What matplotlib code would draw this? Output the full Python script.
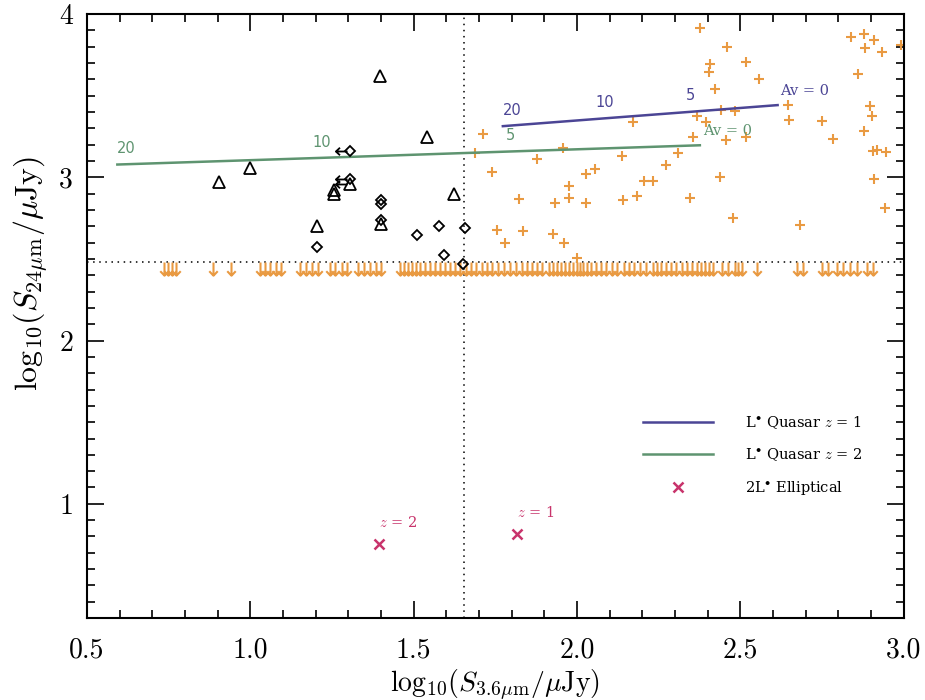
import numpy as np
import matplotlib
matplotlib.use("Agg")
import matplotlib.pyplot as plt
from matplotlib.path import Path
from matplotlib.lines import Line2D
from matplotlib.ticker import MultipleLocator, FormatStrFormatter

plt.rcParams["font.family"] = ["cmr10", "DejaVu Serif"]
plt.rcParams["mathtext.fontset"] = "cm"
plt.rcParams["axes.formatter.use_mathtext"] = True

# --- detected sources: triangles and diamonds (log S3.6, log S24) ---
tri_x = [1.396, 1.541, 1.000, 0.903, 1.256, 1.256, 1.304, 1.622, 1.204, 1.400]
tri_y = [3.621, 3.247, 3.057, 2.971, 2.920, 2.896, 2.961, 2.896, 2.699, 2.716]

dia_x = [1.304, 1.304, 1.400, 1.400, 1.400, 1.204, 1.511, 1.579, 1.656, 1.594, 1.650]
dia_y = [3.160, 2.992, 2.859, 2.839, 2.736, 2.572, 2.644, 2.699, 2.691, 2.526, 2.470]

# sources with 3.6um upper limits (left arrows)
xlim_x = [1.304, 1.304, 1.304]
xlim_y = [3.160, 2.992, 2.961]

# --- 24um detected comparison sample (crosses) ---
crs_x = [1.713, 1.687, 1.740, 1.754, 1.779, 1.822, 1.835, 1.878, 1.927, 1.960,
         1.932, 1.976, 1.976, 1.957, 2.027, 2.027, 2.054, 2.138, 2.141, 2.172,
         2.185, 2.205, 2.233, 2.271, 2.309, 2.347, 2.355, 2.368, 2.394, 2.376,
         2.406, 2.404, 2.422, 2.442, 2.439, 2.457, 2.460, 2.478, 2.485, 2.517,
         2.517, 2.557, 2.646, 2.649, 2.682, 2.751, 2.784, 2.838, 2.879, 2.909,
         2.883, 2.932, 2.860, 2.896, 2.903, 2.879, 2.906, 2.945, 2.908, 2.942,
         2.993, 2.917, 2.000]
crs_y = [3.262, 3.149, 3.033, 2.679, 2.599, 2.869, 2.669, 3.110, 2.655, 2.599,
         2.845, 2.947, 2.873, 3.180, 2.845, 3.018, 3.049, 3.131, 2.859, 3.339,
         2.885, 2.975, 2.975, 3.078, 3.149, 2.876, 3.247, 3.374, 3.339, 3.912,
         3.693, 3.642, 3.540, 3.411, 3.002, 3.227, 3.799, 2.753, 3.405, 3.244,
         3.707, 3.601, 3.442, 3.350, 2.706, 3.344, 3.237, 3.861, 3.877, 3.840,
         3.790, 3.765, 3.632, 3.436, 3.374, 3.284, 3.161, 3.152, 2.992, 2.814,
         3.810, 3.166, 2.503]

# --- 24um upper limits (down arrows) ---
ulim_y = 2.48
ulim_x = [0.736, 0.748, 0.760, 0.772, 0.886, 0.941,
          1.029, 1.045, 1.060, 1.078, 1.094, 1.152, 1.170, 1.189, 1.207,
          1.244, 1.259, 1.280, 1.296, 1.329, 1.348, 1.366, 1.384, 1.400,
          1.458, 1.470, 1.482, 1.495, 1.507, 1.519, 1.534, 1.550, 1.565, 1.580,
          1.595, 1.611, 1.626, 1.641, 1.660, 1.675, 1.690, 1.709, 1.724, 1.739,
          1.758, 1.776, 1.794, 1.813, 1.831, 1.846, 1.862, 1.877, 1.892, 1.914,
          1.926, 1.938, 1.950, 1.963, 1.975, 1.987, 1.999, 2.009, 2.018, 2.030,
          2.042, 2.058, 2.073, 2.088, 2.107, 2.122, 2.143, 2.159, 2.174, 2.192,
          2.211, 2.232, 2.244, 2.256, 2.272, 2.287, 2.302, 2.321, 2.336, 2.351,
          2.367, 2.379, 2.391, 2.403, 2.416, 2.443, 2.461, 2.483, 2.492, 2.504,
          2.550, 2.673, 2.691, 2.749, 2.767, 2.795, 2.813, 2.835, 2.856, 2.887,
          2.905]

# --- L* quasar tracks, reddened by Av = 20, 10, 5, 0 ---
av_labels = ["20", "10", "5", "Av = 0"]
qso_z1_x = [1.773, 2.085, 2.348, 2.614]
qso_z1_y = [3.313, 3.361, 3.401, 3.442]
qso_z2_x = [0.593, 1.219, 1.797, 2.376]
qso_z2_y = [3.078, 3.119, 3.158, 3.196]

# --- 2L* elliptical ---
ell_x = [1.394, 1.815]
ell_y = [0.753, 0.814]
ell_labels = ["$z$ = 2", "$z$ = 1"]

# dotted selection cuts
cut_x = 1.655
cut_y = 2.48

c_orange = "#E99A42"
c_blue = "#4B4595"
c_green = "#5E9470"
c_red = "#C8336B"

serif = ["DejaVu Serif"]

down_arrow = Path([(0, 0), (0, -1), (-0.32, -0.66), (0, -1), (0.32, -0.66)],
                  [Path.MOVETO, Path.LINETO, Path.MOVETO, Path.LINETO, Path.LINETO])
left_arrow = Path([(-0.2, 0), (-1, 0), (-0.72, 0.26), (-1, 0), (-0.72, -0.26)],
                  [Path.MOVETO, Path.LINETO, Path.MOVETO, Path.LINETO, Path.LINETO])

fig = plt.figure(figsize=(9.25, 7.0), dpi=100)
ax = fig.add_axes([0.094, 0.117, 0.883, 0.863])

ax.axvline(cut_x, color="black", ls=(0, (1, 3)), lw=1.1, zorder=1)
ax.axhline(cut_y, color="black", ls=(0, (1, 3)), lw=1.1, zorder=1)

ax.plot(ulim_x, [ulim_y] * len(ulim_x), ls="none", marker=down_arrow, ms=19,
        mfc="none", mec=c_orange, mew=1.5, zorder=2)
ax.plot(crs_x, crs_y, ls="none", marker="+", ms=7.5, mew=1.5, color=c_orange, zorder=2)

ax.plot(qso_z1_x, qso_z1_y, color=c_blue, lw=1.8, zorder=3)
ax.plot(qso_z2_x, qso_z2_y, color=c_green, lw=1.8, zorder=3)

for xs, ys, col in [(qso_z1_x, qso_z1_y, c_blue), (qso_z2_x, qso_z2_y, c_green)]:
    for i, (xv, yv, lab) in enumerate(zip(xs, ys, av_labels)):
        if i == 3:
            ax.annotate(lab, (xv, yv), xytext=(2, 5), textcoords="offset points",
                        ha="left", va="bottom", color=col, fontsize=10.5, family=serif)
        else:
            ha = "left" if i == 0 else "center"
            ax.annotate(lab, (xv, yv), xytext=(0, 6), textcoords="offset points",
                        ha=ha, va="bottom", color=col, fontsize=10.5,
                        family=["DejaVu Sans"])

ax.plot(tri_x, tri_y, ls="none", marker="^", ms=8, mfc="none", mec="black", mew=1.3, zorder=4)
ax.plot(dia_x, dia_y, ls="none", marker="D", ms=5.2, mfc="none", mec="black", mew=1.3, zorder=4)
ax.plot(xlim_x, xlim_y, ls="none", marker=left_arrow, ms=21, mfc="none", mec="black",
        mew=1.3, zorder=4)

ax.plot(ell_x, ell_y, ls="none", marker="x", ms=7, mew=1.8, color=c_red, zorder=4)
for xv, yv, lab in zip(ell_x, ell_y, ell_labels):
    ax.annotate(lab, (xv, yv), xytext=(0, 10), textcoords="offset points",
                ha="left", va="bottom", color=c_red, fontsize=10.5, family=serif)

handles = [Line2D([], [], color=c_blue, lw=1.8),
           Line2D([], [], color=c_green, lw=1.8),
           Line2D([], [], ls="none", marker="x", ms=7, mew=1.8, color=c_red)]
labels = [r"L$^{\bullet}$ Quasar $z$ = 1", r"L$^{\bullet}$ Quasar $z$ = 2",
          r"2L$^{\bullet}$ Elliptical"]
leg = ax.legend(handles, labels, loc="upper left", bbox_to_anchor=(0.681, 0.337),
                frameon=False, handlelength=4.8, handletextpad=2.2, labelspacing=1.05,
                borderpad=0, borderaxespad=0,
                prop={"family": serif, "size": 10.5})

ax.set_xlim(0.5, 3.0)
ax.set_ylim(0.3, 4.0)
ax.xaxis.set_major_locator(MultipleLocator(0.5))
ax.xaxis.set_minor_locator(MultipleLocator(0.1))
ax.yaxis.set_major_locator(MultipleLocator(1))
ax.yaxis.set_minor_locator(MultipleLocator(0.1))
ax.xaxis.set_major_formatter(FormatStrFormatter("%.1f"))
ax.yaxis.set_major_formatter(FormatStrFormatter("%d"))

ax.tick_params(which="both", direction="in", top=True, right=True, width=1.2,
               labelsize=20, color="black")
ax.tick_params(which="major", length=12)
ax.tick_params(which="minor", length=6)
ax.tick_params(axis="x", which="major", pad=14)
ax.tick_params(axis="y", which="major", pad=10)
for sp in ax.spines.values():
    sp.set_linewidth(1.5)

ax.set_xlabel(r"$\mathrm{log}_{10}(S_{3.6\mu{\rm m}}/\mu{\rm Jy})$", fontsize=20)
ax.set_ylabel(r"$\mathrm{log}_{10}(S_{24\mu{\rm m}}/\mu{\rm Jy})$", fontsize=23)
ax.xaxis.set_label_coords(0.5, -0.081)
ax.yaxis.set_label_coords(-0.045, 0.57)

fig.savefig("out.png", dpi=100)
